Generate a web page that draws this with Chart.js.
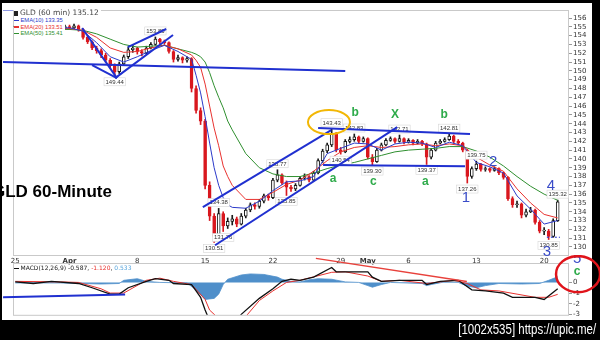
<!DOCTYPE html>
<html>
<head>
<meta charset="utf-8">
<title>GLD 60-Minute</title>
<script src="https://cdn.jsdelivr.net/npm/chart.js@4.4.1/dist/chart.umd.min.js"></script>
<style>
  html, body { margin: 0; padding: 0; background: #000; }
  #wrap { position: relative; width: 600px; height: 340px; overflow: hidden; background: #000; font-family: "DejaVu Sans", sans-serif; }
  #paper { position: absolute; left: 2px; top: 3px; width: 590px; height: 317px; background: #fff; }
  canvas { position: absolute; left: 0; }
  #price { top: 0; }
  #macd { top: 255px; }
  #topline { position: absolute; left: 3px; top: 10px; width: 87px; height: 1px; background: #8d97e2; }
  #leg1 { position: absolute; left: 14px; top: 9px; font-size: 7.5px; line-height: 8px; color: #444; background: #fff; padding-right: 2px; white-space: nowrap; }
  #leg1 b { display: inline-block; width: 4px; height: 5px; background: #222; margin-right: 2px; vertical-align: -0.5px; }
  #leg2 { position: absolute; left: 14px; top: 17px; font: 5.8px/6.6px "Liberation Sans", sans-serif; background: #fff; padding: 0 2px 1px 0; white-space: nowrap; }
  #leg2 i, #mleg i { display: inline-block; width: 5px; height: 1.5px; vertical-align: middle; margin-right: 1.5px; }
  #mleg { position: absolute; left: 14px; top: 264px; font-size: 6px; line-height: 8px; color: #222; white-space: nowrap; }
  #title { position: absolute; left: -8px; top: 183px; font: bold 17px/17px "Liberation Sans", sans-serif; color: #000; white-space: nowrap; }
  #stamp { position: absolute; right: 4px; top: 322px; font: 14px/14px "Liberation Sans", sans-serif; color: #fff; white-space: nowrap; transform: scaleX(0.82); transform-origin: right center; }
</style>
</head>
<body>
<div id="wrap">
  <div id="paper"></div>
  <div id="topline"></div>
  <canvas id="price" width="600" height="265"></canvas>
  <canvas id="macd" width="600" height="65"></canvas>
  <div id="leg1"><b></b>GLD (60 min) 135.12</div>
  <div id="leg2">
    <div style="color:#2b39c9"><i style="background:#2b39c9"></i>EMA(10) 133.35</div>
    <div style="color:#e8322f"><i style="background:#e8322f"></i>EMA(20) 133.51</div>
    <div style="color:#2f8f2f"><i style="background:#2f8f2f"></i>EMA(50) 135.41</div>
  </div>
  <div id="mleg"><i style="background:#111"></i>MACD(12,26,9) -0.587, <span style="color:#e8322f">-1.120</span>, <span style="color:#5aa6dc">0.533</span></div>
  <div id="title">GLD 60-Minute</div>
  <div id="stamp">[1002x535] https://upic.me/</div>
</div>
<script>
// x axis: one slot per bar, three bars per trading day (Mar 25 .. May 21)
const tickIdx = [0, 12, 27, 42, 57, 72, 78, 87, 102, 117];
const tickLabels = ['25', 'Apr', '8', '15', '22', '29', 'May', '6', '13', '20'];
const priceTicks = [130,131,132,133,134,135,136,137,138,139,140,141,142,143,144,145,146,147,148,149,150,151,152,153,154,155,156];
const macdTicks = [-3, -2, -1, 0];

const opens = [155.0,155.1,154.8,154.9,154.6,154.4,154.7,154.9,155.0,154.8,
  154.7,154.9,155.0,154.9,155.1,154.7,153.8,153.3,152.6,152.3,
  151.8,151.2,150.6,149.9,150.8,151.6,152.4,152.6,152.2,152.0,
  152.6,153.0,153.6,153.3,153.2,152.2,151.3,151.5,151.2,151.4,
  148.0,145.5,144.3,137.0,133.5,131.2,133.8,132.4,132.9,133.2,
  132.6,133.5,134.2,134.8,134.6,135.2,135.8,135.6,137.6,138.2,
  137.3,136.8,136.6,137.0,137.8,138.0,137.6,138.4,139.8,140.9,
  141.6,142.9,141.0,140.8,142.0,142.2,142.5,142.0,142.3,140.2,
  139.7,141.0,141.6,142.1,142.3,142.0,142.3,141.9,142.1,141.8,
  142.0,141.7,140.2,141.0,141.8,142.0,142.2,142.6,142.0,141.8,
  141.0,138.0,138.9,139.4,138.8,138.9,138.7,138.9,138.4,137.9,
  135.5,134.8,134.9,133.6,134.0,134.2,132.8,131.8,131.8,131.2,
  133.0];
const highs = [155.3,155.2,155.1,155.0,154.8,154.9,155.1,155.2,155.1,155.0,
  155.1,155.2,155.2,155.3,155.2,154.8,154.0,153.4,152.8,152.5,
  152.0,151.4,150.8,151.0,151.8,152.7,152.9,152.7,152.4,152.8,
  153.2,153.85,153.7,153.5,153.3,152.3,151.8,151.6,151.6,151.5,
  148.3,145.8,144.5,137.4,133.8,134.38,134.0,133.3,133.6,133.4,
  133.8,134.4,135.0,135.0,135.4,136.0,136.0,137.8,138.77,138.3,
  137.5,137.0,137.2,138.0,138.3,138.1,138.6,140.0,141.1,141.8,
  143.43,143.0,141.3,142.2,142.5,142.83,142.6,142.5,142.4,140.5,
  141.2,141.8,142.3,142.5,142.4,142.71,142.4,142.3,142.2,142.2,
  142.1,141.8,141.2,142.0,142.2,142.4,142.81,142.7,142.2,141.9,
  141.1,139.1,139.75,139.5,139.1,139.0,139.1,139.0,138.5,138.0,
  135.7,135.2,135.0,134.3,134.5,134.3,133.0,132.2,132.0,133.2,
  135.32];
const lows = [154.8,154.6,154.6,154.4,154.2,154.3,154.6,154.8,154.6,154.5,
  154.6,154.8,154.7,154.8,154.5,153.6,153.1,152.4,152.0,151.5,
  151.0,150.3,149.44,149.7,150.6,151.4,152.1,151.9,151.7,151.9,
  152.5,152.9,153.0,153.0,152.0,151.0,151.1,150.9,151.0,147.6,
  145.2,143.9,136.6,133.0,130.51,131.0,131.76,132.1,132.5,132.3,
  132.5,133.3,134.0,134.3,134.4,135.0,135.3,135.5,137.4,137.1,
  135.85,136.3,136.4,136.9,137.6,137.4,137.5,138.3,139.6,140.7,
  141.4,140.8,140.54,140.7,141.8,142.0,141.8,141.9,140.0,139.30,
  139.6,140.9,141.5,142.0,141.8,141.9,141.7,141.8,141.6,141.7,
  141.5,139.37,140.0,140.9,141.7,141.9,142.1,141.8,141.6,140.8,
  137.26,137.8,138.7,138.6,138.6,138.5,138.6,138.2,137.7,135.3,
  134.5,134.5,133.3,133.4,133.9,132.6,131.6,131.4,130.85,131.1,
  132.9];
const closes = [155.1,154.8,154.9,154.6,154.4,154.7,154.9,155.0,154.8,154.7,
  154.9,155.0,154.9,155.1,154.7,153.8,153.3,152.6,152.3,151.8,
  151.2,150.6,149.9,150.8,151.6,152.4,152.6,152.2,152.0,152.6,
  153.0,153.6,153.3,153.2,152.2,151.3,151.5,151.2,151.4,148.0,
  145.5,144.3,137.0,133.5,131.2,133.8,132.4,132.9,133.2,132.6,
  133.5,134.2,134.8,134.6,135.2,135.8,135.6,137.6,138.2,137.3,
  136.8,136.6,137.0,137.8,138.0,137.6,138.4,139.8,140.9,141.6,
  142.9,141.0,140.8,142.0,142.2,142.5,142.0,142.3,140.2,139.7,
  141.0,141.6,142.1,142.3,142.0,142.3,141.9,142.1,141.8,142.0,
  141.7,140.2,141.0,141.8,142.0,142.2,142.6,142.0,141.8,141.0,
  138.0,138.9,139.4,138.8,138.9,138.7,138.9,138.4,137.9,135.5,
  134.8,134.9,133.6,134.0,134.2,132.8,131.8,131.8,131.2,133.0,
  135.12];

// moving averages read at these bar slots
const emaIdx = [0,3,6,9,12,15,18,21,24,27,30,33,36,39,40,41,42,43,44,45,46,47,48,
  51,54,57,60,63,66,69,72,75,78,81,84,87,90,93,96,99,102,105,108,111,114,117,120];
const ema10 = [154.9,154.8,154.8,154.8,154.9,154.5,153.2,151.6,151.0,151.6,152.3,152.9,152.2,151.3,
  149.5,147.5,144.8,141.8,139.0,137.0,135.6,134.8,134.5,
  134.4,135.2,136.4,137.4,137.5,138.0,140.6,141.2,141.8,141.7,141.0,141.7,141.9,141.8,141.3,141.9,141.5,
  139.6,139.1,138.4,135.8,134.3,132.6,133.0];
const ema20 = [154.8,154.8,154.8,154.8,154.8,154.6,153.8,152.6,152.1,152.2,152.6,152.9,152.5,151.8,
  151.2,150.4,148.5,146.0,143.5,141.5,139.2,138.0,137.0,
  135.4,135.4,136.2,137.1,137.6,138.6,139.8,140.8,141.3,141.5,141.3,141.4,141.6,141.7,141.5,141.7,141.5,
  140.2,139.3,138.6,136.6,135.0,133.7,133.3];
const ema50 = [154.7,154.7,154.7,154.7,154.7,154.6,154.2,153.6,153.0,152.7,152.8,152.9,152.5,152.1,
  151.9,151.6,151.0,149.8,148.3,147.0,145.8,144.3,143.3,
  140.6,139.0,138.3,138.0,138.0,138.4,138.9,139.3,139.6,140.0,140.4,140.8,141.0,141.1,141.2,141.4,141.4,
  140.9,140.2,139.2,138.0,136.9,136.0,135.3];

// MACD panel
const macdIdx = [0,4,8,14,17,21,23,25,29,31,34,35,39,40,41,42,43,45,49,50,54,57,59,61,63,66,70,71,78,79,81,85,90,91,94,98,99,101,104,108,110,115,117,120];
const macdVals = [0.05,-0.1,0.1,-0.1,-0.5,-1.1,-1.1,-0.5,0.1,0.35,0.2,-0.1,-0.2,-0.8,-1.4,-2.6,-3.6,-4.8,-3.6,-3.0,-1.5,-0.6,0.1,0.3,0.2,0.5,1.4,1.0,1.0,0.5,0.1,0.2,0.2,-0.2,0.1,0.2,-0.1,-0.7,-0.8,-1.0,-1.4,-1.4,-1.6,-0.59];
const sigIdx = [0,10,14,19,21,24,29,32,35,39,42,43,47,51,54,57,60,63,70,73,78,81,85,91,97,100,103,107,111,115,118,120];
const sigVals = [0.1,0.05,0,-0.6,-1.0,-1.0,0.2,0.4,0.1,-0.2,-1.6,-2.6,-4.2,-3.2,-1.7,-0.8,0.0,0.2,0.95,1.0,0.6,0.1,0.2,-0.1,0.2,-0.1,-0.7,-0.8,-1.1,-1.4,-1.4,-1.12];
const histIdx = [0,10,19,23,24,27,29,32,38,40,42,44,45,46,47,50,52,55,58,59,61,63,65,67,70,73,76,78,79,81,83,90,91,92,95,98,100,102,104,107,112,116,118,120];
const histVals = [-0.05,-0.05,-0.15,-0.1,0.2,0.35,0.1,0,-0.05,-0.7,-1.6,-1.5,-1.1,-0.2,0.3,0.7,0.8,0.75,0.5,0.3,0.1,0.05,0.25,0.35,0.3,0.05,0,-0.3,-0.45,-0.2,0,-0.1,-0.3,-0.2,0.05,0,-0.35,-0.5,-0.3,-0.1,-0.15,-0.1,0.2,0.53];

// hand-drawn notes, in (bar slot, price) units
const tagBars = [22,31,44,45,46,58,60,70,72,75,79,85,91,96,100,102,118,120];
const tagIsHigh = [0,1,0,1,0,1,0,1,0,1,0,1,0,1,0,1,0,1];
const trendLines = [
  [-2.7,151.0,73.0,149.98],
  [14.8,154.86,22.5,149.18],
  [17.0,150.66,22.5,149.18],
  [22.1,149.18,34.9,154.07],
  [24.9,152.7,33.4,154.75],
  [41.5,134.52,69.9,143.27],
  [44.2,130.2,84.5,143.61],
  [67.0,143.5,100.6,142.82],
  [68.1,139.3,99.5,139.18]
];
const greenMarks = [['b',75.2,145.2],['X',84.0,145.0],['b',94.9,145.0],['a',70.3,137.8],['c',79.2,137.4],['a',90.7,137.4]];
const blueMarks = [['1',99.7,135.55],['2',105.7,139.64],['3',117.6,129.41],['4',118.5,136.91]];

const RED = '#d9181f', BLACK = '#1a1a1a', PEN = '#2030d0';

const candleColor = closes.map((c, i) => (i > 0 && c < closes[i - 1]) ? RED : BLACK);
const candleFill = closes.map((c, i) => c < opens[i] ? candleColor[i] : '#fff');
const pts = (idx, vals) => idx.map((x, k) => ({x: x, y: vals[k]}));

function frame(chart) {
  const {ctx, chartArea: a} = chart;
  ctx.save();
  ctx.strokeStyle = '#c9c9c9';
  ctx.lineWidth = 1;
  ctx.strokeRect(a.left + 0.5, a.top + 0.5, a.right - a.left - 1, a.bottom - a.top);
  ctx.restore();
}

function line(ctx, x1, y1, x2, y2) {
  ctx.beginPath();
  ctx.moveTo(x1, y1);
  ctx.lineTo(x2, y2);
  ctx.stroke();
}

const priceNotes = {
  id: 'priceNotes',
  beforeDatasetsDraw: frame,
  afterDraw(chart) {
    const {ctx, scales: {x, y}} = chart;
    const px = v => x.getPixelForValue(v), py = v => y.getPixelForValue(v);
    ctx.save();
    // high / low tags
    ctx.font = '6px "Liberation Sans"';
    ctx.textAlign = 'center';
    ctx.textBaseline = 'middle';
    tagBars.forEach((b, k) => {
      const v = tagIsHigh[k] ? highs[b] : lows[b];
      const t = v.toFixed(2);
      const cx = px(b), cy = py(v) + (tagIsHigh[k] ? -6 : 6);
      const w = ctx.measureText(t).width + 3;
      ctx.fillStyle = '#fff';
      ctx.fillRect(cx - w / 2, cy - 4, w, 8);
      ctx.strokeStyle = '#d6d6d6';
      ctx.lineWidth = 0.6;
      ctx.strokeRect(cx - w / 2, cy - 4, w, 8);
      ctx.fillStyle = '#333';
      ctx.fillText(t, cx, cy + 0.3);
    });
    // trend lines
    ctx.strokeStyle = PEN;
    ctx.lineWidth = 2;
    trendLines.forEach(l => line(ctx, px(l[0]), py(l[1]), px(l[2]), py(l[3])));
    ctx.lineWidth = 1;
    ctx.setLineDash([2, 2]);
    line(ctx, px(117.6), py(131.11), px(120.5), py(131.11));
    ctx.setLineDash([]);
    // circle round the top
    ctx.strokeStyle = '#f2b705';
    ctx.lineWidth = 2;
    ctx.beginPath();
    ctx.ellipse(px(69.4), py(144.18), 21, 12, 0, 0, Math.PI * 2);
    ctx.stroke();
    // wave labels
    ctx.font = 'bold 12px "Liberation Sans"';
    ctx.fillStyle = '#2eab4a';
    greenMarks.forEach(m => ctx.fillText(m[0], px(m[1]), py(m[2])));
    ctx.font = '15px "Liberation Sans"';
    ctx.fillStyle = '#3a4cc8';
    blueMarks.forEach(m => ctx.fillText(m[0], px(m[1]), py(m[2])));
    ctx.restore();
  }
};

const macdNotes = {
  id: 'macdNotes',
  beforeDatasetsDraw: frame,
  afterDraw(chart) {
    const {ctx, scales: {x, y}} = chart;
    const px = v => x.getPixelForValue(v), py = v => y.getPixelForValue(v);
    ctx.save();
    ctx.lineWidth = 2;
    ctx.strokeStyle = PEN;
    line(ctx, px(-2.7), py(-1.39), px(24.3), py(-1.13));
    ctx.lineWidth = 1.5;
    ctx.strokeStyle = '#e8413b';
    line(ctx, px(66.5), py(2.26), px(99.9), py(0.09));
    ctx.textAlign = 'center';
    ctx.textBaseline = 'middle';
    ctx.font = '15px "Liberation Sans"';
    ctx.fillStyle = '#3a4cc8';
    ctx.fillText('5', px(124.3), py(2.26));
    ctx.font = 'bold 12px "Liberation Sans"';
    ctx.fillStyle = '#2eab4a';
    ctx.fillText('c', px(124.3), py(1.04));
    ctx.strokeStyle = '#e0141b';
    ctx.lineWidth = 2.5;
    ctx.beginPath();
    ctx.ellipse(px(124.5), py(0.78), 22, 18, 0, 0, Math.PI * 2);
    ctx.stroke();
    ctx.restore();
  }
};

const tickFont = {family: '"DejaVu Sans"', size: 7};

new Chart(document.getElementById('price').getContext('2d'), {
  type: 'bar',
  data: {
    datasets: [
      {type: 'line', data: pts(emaIdx, ema10), borderColor: '#2b39c9', borderWidth: 1, pointRadius: 0, order: -3},
      {type: 'line', data: pts(emaIdx, ema20), borderColor: '#e8322f', borderWidth: 1, pointRadius: 0, order: -2},
      {type: 'line', data: pts(emaIdx, ema50), borderColor: '#2f8f2f', borderWidth: 1, pointRadius: 0, order: -1},
      {
        data: opens.map((o, i) => ({x: i, y: [o, closes[i]]})),
        backgroundColor: candleFill,
        borderColor: candleColor,
        borderWidth: 1,
        borderSkipped: false,
        barThickness: 3,
        minBarLength: 1,
        grouped: false,
        order: 1
      },
      {
        data: lows.map((l, i) => ({x: i, y: [l, highs[i]]})),
        backgroundColor: candleColor,
        barThickness: 1,
        grouped: false,
        order: 2
      }
    ]
  },
  options: {
    responsive: false,
    devicePixelRatio: 1,
    animation: false,
    layout: {padding: {left: 13, top: 10, right: 0, bottom: 0}},
    plugins: {legend: {display: false}, tooltip: {enabled: false}},
    scales: {
      x: {
        type: 'linear',
        min: -0.5,
        max: 122.5,
        offset: false,
        grid: {display: false, drawTicks: false},
        border: {display: false},
        afterBuildTicks: s => { s.ticks = tickIdx.map(v => ({value: v})); },
        afterFit: s => { s.height = 10; },
        ticks: {
          autoSkip: false,
          maxRotation: 0,
          padding: 2,
          color: '#333',
          font: c => ({family: '"DejaVu Sans"', size: 7, weight: (c.tick && /[A-Za-z]/.test(tickLabels[tickIdx.indexOf(c.tick.value)])) ? 'bold' : 'normal'}),
          callback: v => tickLabels[tickIdx.indexOf(v)]
        }
      },
      y: {
        position: 'right',
        min: 129.09,
        max: 156.91,
        grid: {drawOnChartArea: false, drawTicks: true, tickLength: 3, color: '#999'},
        border: {display: false},
        afterBuildTicks: s => { s.ticks = priceTicks.map(v => ({value: v})); },
        afterFit: s => { s.width = 31; },
        ticks: {autoSkip: false, padding: 1, color: '#333', font: tickFont}
      }
    }
  },
  plugins: [priceNotes]
});

new Chart(document.getElementById('macd').getContext('2d'), {
  type: 'line',
  data: {
    datasets: [
      {data: pts(macdIdx, macdVals), borderColor: '#111', borderWidth: 1.3, pointRadius: 0, order: 1},
      {data: pts(sigIdx, sigVals), borderColor: '#e8322f', borderWidth: 1, pointRadius: 0, order: 2},
      {data: pts(histIdx, histVals), borderColor: '#4f8fca', backgroundColor: '#4f8fca', borderWidth: 0.8, pointRadius: 0, fill: 'origin', order: 3}
    ]
  },
  options: {
    responsive: false,
    devicePixelRatio: 1,
    animation: false,
    layout: {padding: {left: 13, top: 8, right: 0, bottom: 1}},
    plugins: {legend: {display: false}, tooltip: {enabled: false}},
    scales: {
      x: {type: 'linear', min: -0.5, max: 122.5, offset: false, display: false},
      y: {
        position: 'right',
        min: -3.043,
        max: 1.826,
        grid: {drawOnChartArea: false, drawTicks: true, tickLength: 3, color: '#999'},
        border: {display: false},
        afterBuildTicks: s => { s.ticks = macdTicks.map(v => ({value: v})); },
        afterFit: s => { s.width = 31; },
        ticks: {autoSkip: false, padding: 1, color: '#333', font: tickFont}
      }
    }
  },
  plugins: [macdNotes]
});
</script>
</body>
</html>
